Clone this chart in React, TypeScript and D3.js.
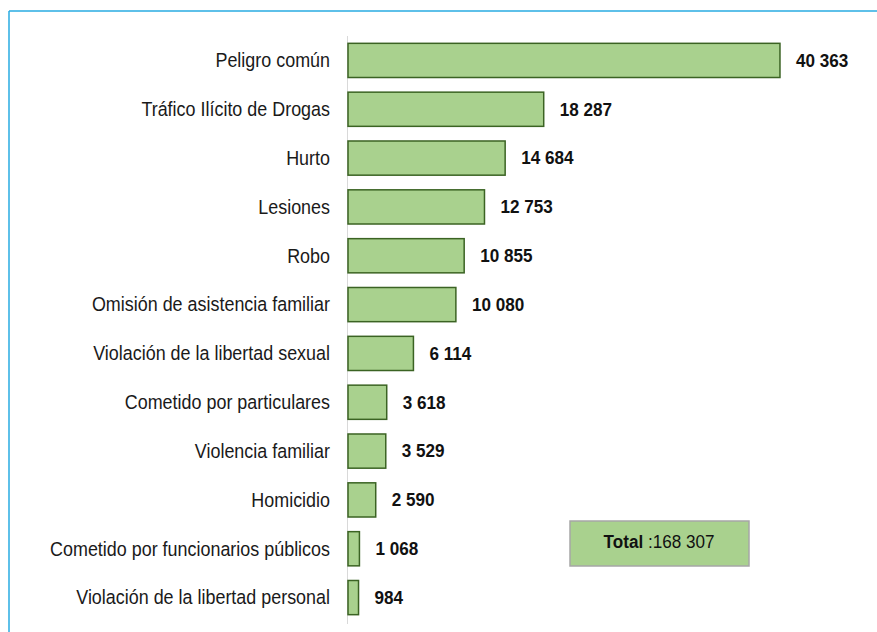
import React from 'react';
import { scaleBand, scaleLinear, format } from 'd3';

const categories = [
  'Peligro común',
  'Tráfico Ilícito de Drogas',
  'Hurto',
  'Lesiones',
  'Robo',
  'Omisión de asistencia familiar',
  'Violación de la libertad sexual',
  'Cometido por particulares',
  'Violencia familiar',
  'Homicidio',
  'Cometido por funcionarios públicos',
  'Violación de la libertad personal',
];
const values = [40363, 18287, 14684, 12753, 10855, 10080, 6114, 3618, 3529, 2590, 1068, 984];
const totalLabel = 'Total';
const totalValue = 168307;

const W = 877;
const H = 632;
const FONT = "'Liberation Sans', Arial, sans-serif";

const fmt = (v: number) => format(',')(v).replace(/,/g, ' ');

// text squeezed horizontally, like Arial Narrow
const Narrow = ({ x, y, sx, children, ...rest }: any) => (
  <g transform={`translate(${x},${y}) scale(${sx},1)`}>
    <text x={0} y={0} dominantBaseline="central" fontFamily={FONT} {...rest}>
      {children}
    </text>
  </g>
);

const App = () => {
  const x0 = 348;
  const xScale = scaleLinear().domain([0, 45000]).range([x0, x0 + 481.6]);
  const yScale = scaleBand<string>()
    .domain(categories)
    .range([36, 622])
    .paddingInner(0.3)
    .paddingOuter(0.15);

  return (
    <svg width={W} height={H} style={{ position: 'absolute', left: 0, top: 0 }}>
      <rect x={0} y={0} width={W} height={H} fill="#ffffff" />
      {/* frame */}
      <line x1={9} y1={11} x2={W} y2={11} stroke="#29abe2" strokeWidth={1.5} />
      <line x1={9} y1={11} x2={9} y2={H} stroke="#29abe2" strokeWidth={1.5} />
      {/* axis */}
      <line x1={x0 - 0.5} y1={36} x2={x0 - 0.5} y2={624} stroke="#d9d9d9" strokeWidth={1} />
      {categories.map((c, i) => {
        const y = yScale(c) as number;
        const bw = yScale.bandwidth();
        const xe = xScale(values[i]);
        return (
          <g key={c}>
            <rect
              x={x0}
              y={y}
              width={xe - x0}
              height={bw}
              fill="#a9d18e"
              stroke="#3b6323"
              strokeWidth={1.5}
            />
            <Narrow x={330} y={y + bw / 2} sx={0.92} textAnchor="end" fontSize={19.5} fill="#1a1a1a">
              {c}
            </Narrow>
            <Narrow x={xe + 16} y={y + bw / 2} sx={0.9} fontSize={19} fontWeight="bold" fill="#111">
              {fmt(values[i])}
            </Narrow>
          </g>
        );
      })}
      {/* total box */}
      <rect x={570} y={521} width={179} height={45} fill="#a9d18e" stroke="#a6a6a6" strokeWidth={1.5} />
      <Narrow x={659} y={542} sx={0.9} textAnchor="middle" fontSize={19} fill="#111">
        <tspan fontWeight="bold">{totalLabel}</tspan>
        <tspan> :{fmt(totalValue)}</tspan>
      </Narrow>
    </svg>
  );
};

export default App;
